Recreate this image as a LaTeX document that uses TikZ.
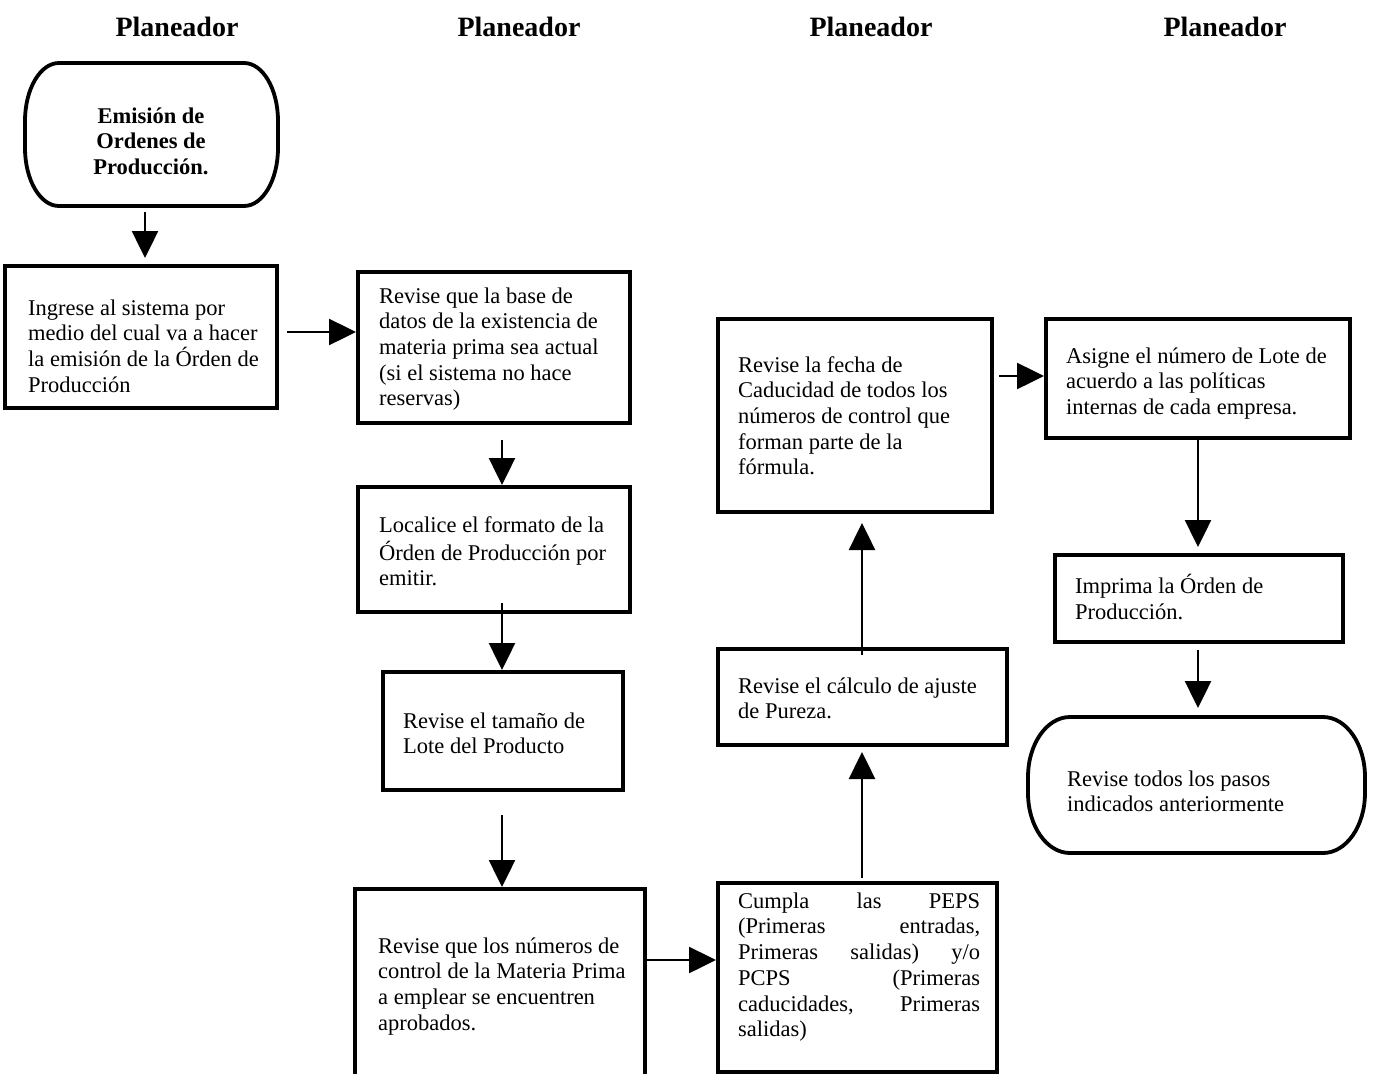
\documentclass[tikz,border=0pt]{standalone}
\usepackage{fontspec}
\setmainfont{Liberation Serif}
\usetikzlibrary{arrows.meta,calc}
\newcommand\bodysize{\fontsize{22.5}{25.7}\selectfont}
\newcommand\headsize{\fontsize{28}{30}\selectfont}
\newcommand\termpath[3]{%
  \draw[boxline] ([xshift=#2]#1.north west) -- ([xshift=-#2]#1.north east)
    arc[start angle=90,end angle=0,x radius=#2,y radius=#3]
    -- ([yshift=#3]#1.south east)
    arc[start angle=0,end angle=-90,x radius=#2,y radius=#3]
    -- ([xshift=#2]#1.south west)
    arc[start angle=270,end angle=180,x radius=#2,y radius=#3]
    -- ([yshift=-#3]#1.north west)
    arc[start angle=180,end angle=90,x radius=#2,y radius=#3] -- cycle;}
\begin{document}
\begin{tikzpicture}[x=1pt,y=-1pt,
  boxline/.style={line width=3.8pt, line join=miter},
  box/.style={boxline, draw, rectangle, inner sep=0pt, outer sep=0pt},
  ghost/.style={rectangle, inner sep=0pt, outer sep=0pt},
  txt/.style={anchor=north west, inner sep=0pt, align=left, font=\bodysize},
  head/.style={anchor=base, inner sep=0pt, font=\headsize\bfseries},
  arr/.style={line width=2.5pt, -{Triangle[length=27pt,width=26pt]}},
]
\useasboundingbox (0,0) rectangle (1377,1074);

% headers
\node[head] (h1) at (177,36) {Planeador};
\node[head] (h2) at (519,36) {Planeador};
\node[head] (h3) at (871,36) {Planeador};
\node[head] (h4) at (1225,36) {Planeador};

% shapes
\node[ghost, minimum width=253pt, minimum height=143pt] (start) at (151.5,134.5) {};
\termpath{start}{34pt}{58pt}
\node[box, minimum width=272pt, minimum height=142pt] (ingrese) at (141,337) {};
\node[box, minimum width=272pt, minimum height=151pt] (base) at (494,347.5) {};
\node[box, minimum width=272pt, minimum height=125pt] (loc) at (494,549.5) {};
\node[box, minimum width=240pt, minimum height=118pt] (tam) at (503,731) {};
\node[ghost, minimum width=290pt, minimum height=185pt] (num) at (500,981.5) {};
\draw[boxline] (num.south west) -- (num.north west) -- (num.north east) -- (num.south east);
\node[box, minimum width=279pt, minimum height=189pt] (peps) at (857.5,977.5) {};
\node[box, minimum width=289pt, minimum height=96pt] (pur) at (862.5,697) {};
\node[box, minimum width=274pt, minimum height=193pt] (fecha) at (855,415.5) {};
\node[box, minimum width=304pt, minimum height=119pt] (asig) at (1198,378.5) {};
\node[box, minimum width=288pt, minimum height=87pt] (imp) at (1199,598.5) {};
\node[ghost, minimum width=337pt, minimum height=136pt] (end) at (1196.5,785) {};
\termpath{end}{42pt}{60pt}

% texts
\node[txt, anchor=north, align=center, font=\bodysize\bfseries] (tstart) at (151,105)
  {\strut Emisión de\\Ordenes de\\Producción.};
\node[txt] (tingrese) at (28,297)
  {\strut Ingrese al sistema por\\medio del cual va a hacer\\la emisión de la Órden de\\Producción};
\node[txt] (tbase) at (379,285)
  {\strut Revise que la base de\\datos de la existencia de\\materia prima sea actual\\(si el sistema no hace\\reservas)};
\node[txt] (tloc) at (379,514)
  {\strut Localice el formato de la\\Órden de Producción por\\emitir.};
\node[txt] (ttam) at (403,710)
  {\strut Revise el tamaño de\\Lote del Producto};
\node[txt] (tnum) at (378,935)
  {\strut Revise que los números de\\control de la Materia Prima\\a emplear se encuentren\\aprobados.};
\node[txt, text width=242pt, align=justify] (tpeps) at (738,890)
  {\hyphenpenalty=10000 \strut Cumpla las PEPS\linebreak (Primeras entradas,\linebreak Primeras salidas) y/o\linebreak PCPS (Primeras\linebreak caducidades, Primeras\linebreak salidas)};
\node[txt] (tpur) at (738,675)
  {\strut Revise el cálculo de ajuste\\de Pureza.};
\node[txt] (tfecha) at (738,354)
  {\strut Revise la fecha de\\Caducidad de todos los\\números de control que\\forman parte de la\\fórmula.};
\node[txt] (tasig) at (1066,345)
  {\strut Asigne el número de Lote de\\acuerdo a las políticas\\internas de cada empresa.};
\node[txt] (timp) at (1075,574)
  {\strut Imprima la Órden de\\Producción.};
\node[txt] (tend) at (1067,768)
  {\strut Revise todos los pasos\\indicados anteriormente};

% guide coordinates
\coordinate (c1) at (145,0);
\coordinate (c2) at (502,0);
\coordinate (c3) at (862,0);
\coordinate (c4) at (1198,0);
\coordinate (r1) at (0,332);
\coordinate (r2) at (0,960);
\coordinate (r3) at (0,376);

% connectors
\draw[arr, shorten <=6pt, shorten >=8pt] (start.south -| c1) -- (ingrese.north -| c1);
\draw[arr, shorten <=10pt, shorten >=2pt] (ingrese.east |- r1) -- (base.west |- r1);
\draw[arr, shorten <=17pt, shorten >=2pt] (base.south -| c2) -- (loc.north -| c2);
\draw[arr, shorten <=-9pt, shorten >=2pt] (loc.south -| c2) -- (tam.north -| c2);
\draw[arr, shorten <=25pt, shorten >=2pt] (tam.south -| c2) -- (num.north -| c2);
\draw[arr, shorten >=2pt] (num.east |- r2) -- (peps.west |- r2);
\draw[arr, shorten <=5pt, shorten >=7pt] (peps.north -| c3) -- (pur.south -| c3);
\draw[arr, shorten <=-6pt, shorten >=11pt] (pur.north -| c3) -- (fecha.south -| c3);
\draw[arr, shorten <=7pt, shorten >=2pt] (fecha.east |- r3) -- (asig.west |- r3);
\draw[arr, shorten >=8pt] (asig.south -| c4) -- (imp.north -| c4);
\draw[arr, shorten <=8pt, shorten >=9pt] (imp.south -| c4) -- (end.north -| c4);
\end{tikzpicture}
\end{document}
